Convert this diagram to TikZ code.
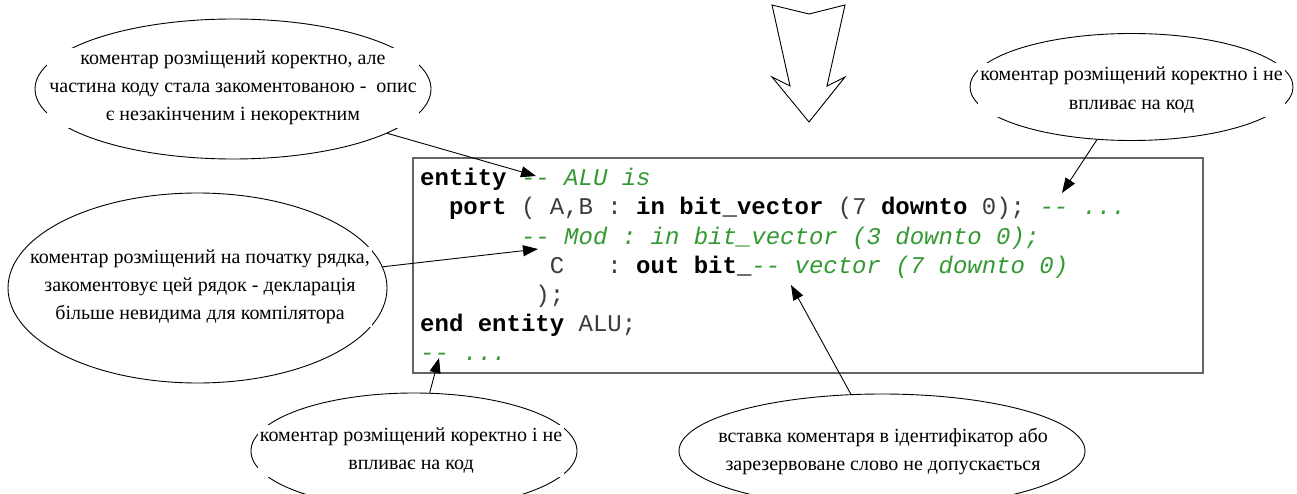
\documentclass[tikz,border=0pt]{standalone}
\usepackage{fontspec}
\setmainfont{Liberation Serif}
\setmonofont{Liberation Mono}
\usetikzlibrary{shapes.geometric,arrows.meta}
\definecolor{cmtgreen}{RGB}{51,153,51}
\definecolor{boxgray}{RGB}{100,100,100}
\definecolor{idgray}{RGB}{60,60,60}
\newcommand\kw[1]{\textbf{\color{black}#1}}
\newcommand\cmt[1]{\textcolor{cmtgreen}{\itshape #1}}
\tikzset{
  bubble/.style={ellipse, draw=black, line width=0.9pt, inner sep=0pt},
  bubtext/.style={fill=white, inner xsep=2pt, inner ysep=3pt, align=center,
    font=\fontsize{20}{28}\selectfont},
  codeline/.style={anchor=base west, inner sep=0pt, text=idgray,
    font=\ttfamily\fontsize{24}{29}\selectfont},
  pointer/.style={draw=black, line width=0.9pt, -{Triangle[length=15pt,width=11pt]}},
  bigarrow/.style={draw=black, line width=0.9pt, fill=white},
}
\begin{document}
\begin{tikzpicture}[x=1pt,y=-1pt]
\useasboundingbox (0,0) rectangle (1297,494);
\fill[white] (0,0) rectangle (1297,494);

% callout bubbles
\node[bubble, minimum width=396pt, minimum height=140pt] (e1) at (233,89) {};
\node[bubble, minimum width=379pt, minimum height=190pt] (e2) at (197.5,288) {};
\node[bubble, minimum width=323pt, minimum height=107pt] (e3) at (1131.5,87) {};
\node[bubble, minimum width=326pt, minimum height=116pt] (e4) at (414,451) {};
\node[bubble, minimum width=406pt, minimum height=114pt] (e5) at (882,451) {};

\node[bubtext] (t1) at (233,88) {коментар розміщений коректно, але\\частина коду стала закоментованою - \ опис\\є незакінченим і некоректним};
\node[bubtext] (t2) at (200,287) {коментар розміщений на початку рядка,\\закоментовує цей рядок - декларація\\більше невидима для компілятора};
\node[bubtext, font=\fontsize{20}{29.5}\selectfont] (t3) at (1131.5,90) {коментар розміщений коректно і не\\впливає на код};
\node[bubtext] (t4) at (411,451) {коментар розміщений коректно і не\\впливає на код};
\node[bubtext] (t5) at (883,451) {вставка коментаря в ідентифікатор або\\зарезервоване слово не допускається};

% VHDL listing
\node[draw=boxgray, line width=1.5pt, minimum width=790pt, minimum height=215pt, inner sep=0pt] (box) at (808,265.5) {};
\node[codeline] (c1) at (420,186) {\kw{entity} \cmt{-{}- ALU is}};
\node[codeline] (c2) at (420,215) {~~\kw{port} ( A,B : \kw{in} \kw{bit\_vector} (7 \kw{downto} 0); \cmt{-{}- ...}};
\node[codeline] (c3) at (420,244) {\hspace*{4.2em}\cmt{-{}- Mod : in bit\_vector (3 downto 0);}};
\node[codeline] (c4) at (420,273) {\hspace*{5.4em}C~~~: \kw{out} \kw{bit\_}\cmt{-{}- vector (7 downto 0)}};
\node[codeline] (c5) at (420,302) {\hspace*{4.8em});};
\node[codeline] (c6) at (420,331) {\kw{end entity} ALU;};
\node[codeline] (c7) at (420,360) {\cmt{-{}- ...}};

% arrow targets inside the listing
\coordinate (p1) at (536,176);
\coordinate (p2) at (538,249);
\coordinate (p3) at (1062,193);
\coordinate (p4) at (439,358);
\coordinate (p5) at (791,285);

\draw[pointer] (e1) -- (p1);
\draw[pointer] (e2) -- (p2);
\draw[pointer] (e3) -- (p3);
\draw[pointer] (e4) -- (p4);
\draw[pointer] (e5) -- (p5);

% block arrow above the listing
\draw[bigarrow] (772,5) -- (809,14) -- (845,5) -- (827,86) -- (845,77)
  -- (809,122) -- (772,77) -- (790,86) -- cycle;
\end{tikzpicture}
\end{document}
